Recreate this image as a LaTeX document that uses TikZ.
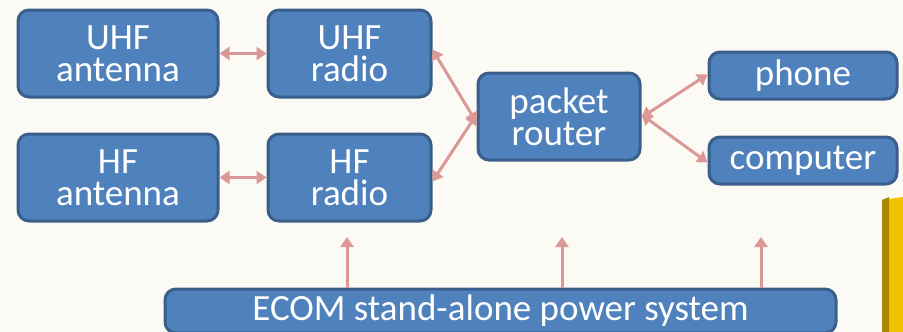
\documentclass[tikz,border=0pt]{standalone}
\usepackage{fontspec}
\setmainfont{Carlito}
\usetikzlibrary{arrows.meta,positioning,calc}
\definecolor{boxfill}{HTML}{4F81BD}
\definecolor{boxline}{HTML}{3A5F8B}
\definecolor{link}{HTML}{DA9896}
\definecolor{paper}{HTML}{FCFAF5}
\definecolor{gold}{HTML}{F2C200}
\tikzstyle{block} = [rectangle, draw=boxline, line width=3pt, fill=boxfill, text=white, align=center, rounded corners=11pt, inner sep=0pt, font=\fontsize{37}{32}\selectfont]
\tikzstyle{wire} = [link, line width=3pt, >={Triangle[length=10pt,width=13pt]}]
\tikzstyle{tap} = [coordinate]

\begin{document}
\begin{tikzpicture}[x=1pt, y=-1pt]
    \fill[paper] (0,0) rectangle (903,332);
    \useasboundingbox (0,0) rectangle (903,332);
    \fill[gold] (882,200) -- (903,197) -- (903,332) -- (882,332) -- cycle;
    \fill[gold!70!black] (882,200) -- (889,197) -- (889,332) -- (882,332) -- cycle;

    \node[block, minimum width=200, minimum height=87] (uhfant) at (118,53.5) {UHF\\antenna};
    \node[block, minimum width=163, minimum height=87, right=47 of uhfant] (uhfradio) {UHF\\radio};
    \node[block, minimum width=200, minimum height=87] (hfant) at (118,177.5) {HF\\antenna};
    \node[block, minimum width=163, minimum height=87, right=47 of hfant] (hfradio) {HF\\radio};
    \node[block, minimum width=162, minimum height=87] (router) at (559,116.5) {packet\\router};
    \node[block, minimum width=188, minimum height=47] (phone) at (803,75.5) {phone};
    \node[block, minimum width=188, minimum height=47] (computer) at (803,160.5) {computer};
    \node[block, minimum width=671, minimum height=44] (power) at (500.5,311) {ECOM stand-alone power system};

    \node[tap] (tap1) at (347,237) {};
    \node[tap] (tap2) at (562,237) {};
    \node[tap] (tap3) at (761,237) {};

    \draw[wire, <->] (uhfant) -- (uhfradio);
    \draw[wire, <->] (hfant) -- (hfradio);
    \draw[wire, <->] ([yshift=4]uhfradio.east) -- ([yshift=-6]router.west);
    \draw[wire, <->] ([yshift=-4]hfradio.east) -- ([yshift=2]router.west);
    \draw[wire, <->] ([yshift=-1]router.east) -- ([yshift=1]phone.west);
    \draw[wire, <->] ([yshift=2]router.east) -- ([yshift=-2]computer.west);

    \draw[wire, ->] (power.north -| tap1) -- (tap1);
    \draw[wire, ->] (power.north -| tap2) -- (tap2);
    \draw[wire, ->] (power.north -| tap3) -- (tap3);
\end{tikzpicture}
\end{document}
